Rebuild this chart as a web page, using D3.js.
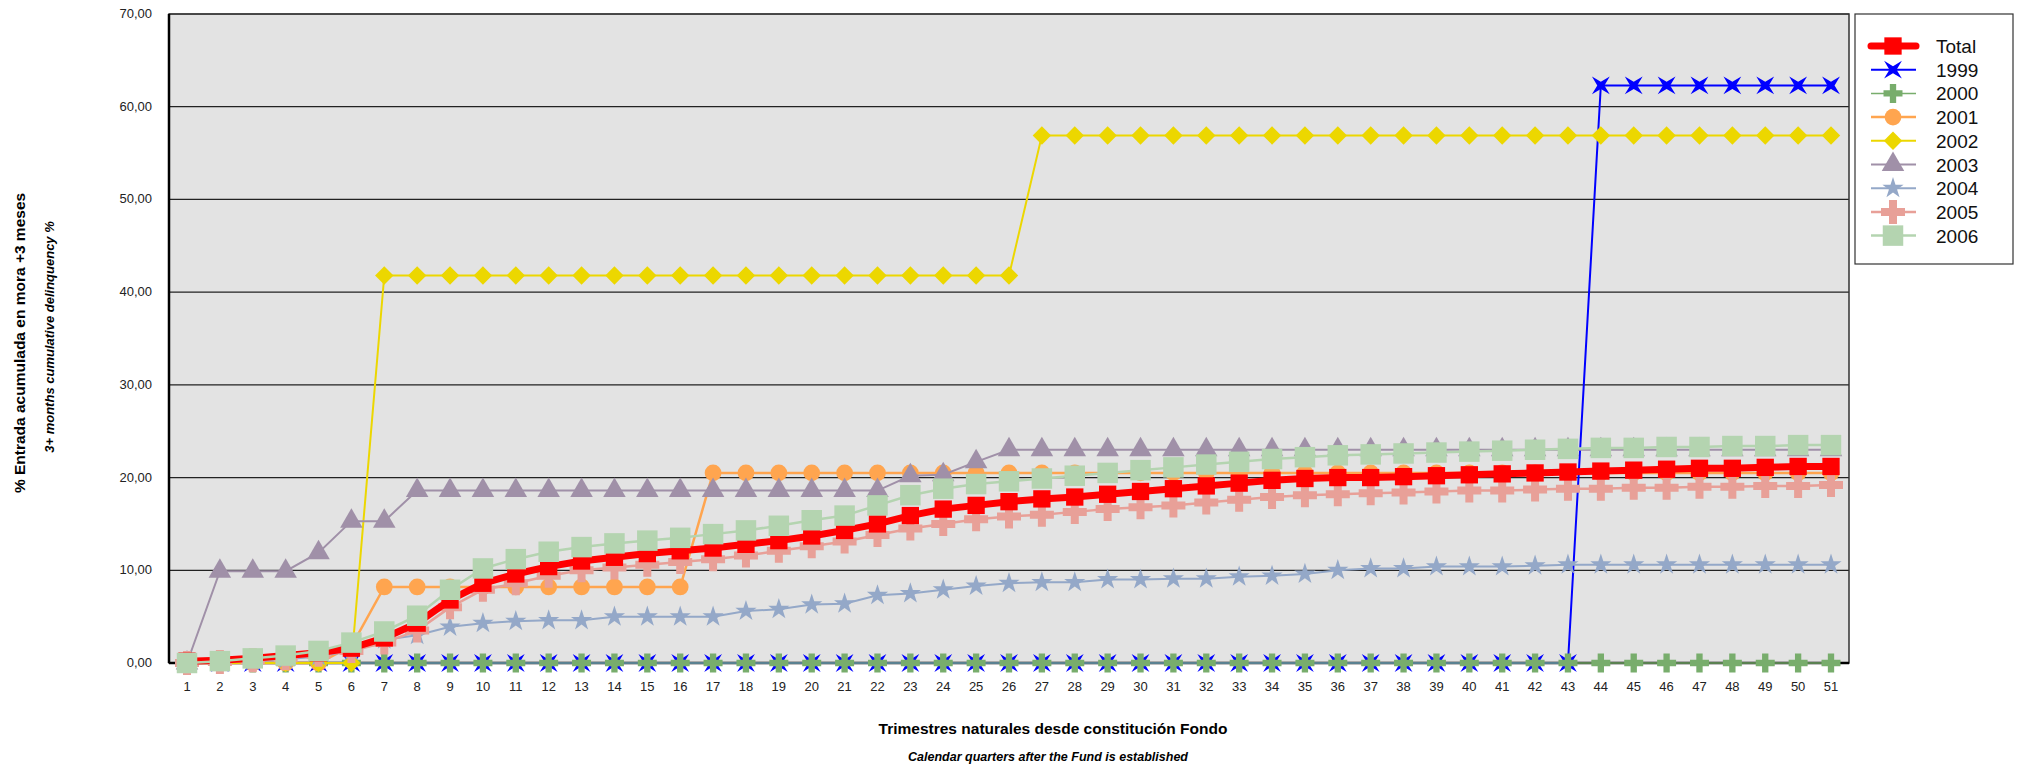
<!DOCTYPE html><html><head><meta charset="utf-8"><script src="https://cdn.jsdelivr.net/npm/d3@7"></script>
<style>body{margin:0;background:#fff}text{font-family:"Liberation Sans",Arial,sans-serif}</style></head><body><svg id="c" width="2019" height="765"></svg><script>
const quarters=d3.range(1,52);
const yTicks=[0,10,20,30,40,50,60,70];
const total=[0.2,0.3,0.5,0.8,1.1,1.6,2.7,4.3,6.8,8.6,9.6,10.4,11.0,11.4,11.8,12.1,12.4,12.8,13.2,13.7,14.3,15.0,15.9,16.6,17.0,17.4,17.7,17.9,18.2,18.5,18.8,19.1,19.4,19.7,19.9,20.0,20.0,20.1,20.2,20.3,20.4,20.5,20.6,20.7,20.8,20.9,21.0,21.0,21.1,21.2,21.2];
const s1999=[0,0,0,0,0,0,0,0,0,0,0,0,0,0,0,0,0,0,0,0,0,0,0,0,0,0,0,0,0,0,0,0,0,0,0,0,0,0,0,0,0,0,0,62.3,62.3,62.3,62.3,62.3,62.3,62.3,62.3];
const s2000=[0,0,0,0,0,0,0,0,0,0,0,0,0,0,0,0,0,0,0,0,0,0,0,0,0,0,0,0,0,0,0,0,0,0,0,0,0,0,0,0,0,0,0,0,0,0,0,0,0,0,0];
const s2001=[0,0,0,0,0,1.8,8.2,8.2,8.2,8.2,8.2,8.2,8.2,8.2,8.2,8.2,20.5,20.5,20.5,20.5,20.5,20.5,20.5,20.5,20.5,20.5,20.5,20.5,20.5,20.5,20.5,20.5,20.5,20.5,20.5,20.5,20.5,20.5,20.5,20.5,20.5,20.5,20.5,20.5,20.5,20.5,20.5,20.5,20.5,20.5,20.5];
const s2002=[0,0,0,0,0,0,41.8,41.8,41.8,41.8,41.8,41.8,41.8,41.8,41.8,41.8,41.8,41.8,41.8,41.8,41.8,41.8,41.8,41.8,41.8,41.8,56.9,56.9,56.9,56.9,56.9,56.9,56.9,56.9,56.9,56.9,56.9,56.9,56.9,56.9,56.9,56.9,56.9,56.9,56.9,56.9,56.9,56.9,56.9,56.9,56.9];
const s2003=[0,9.9,9.9,9.9,11.9,15.3,15.3,18.6,18.6,18.6,18.6,18.6,18.6,18.6,18.6,18.6,18.6,18.6,18.6,18.6,18.6,18.6,20.2,20.3,21.7,23.0,23.0,23.0,23.0,23.0,23.0,23.0,23.0,23.0,23.0,23.0,23.0,23.0,23.0,23.0,23.0,23.0,23.0,23.0,23.0,23.0,23.0,23.0,23.0,23.0,23.0];
const s2004=[0,0.1,0.2,0.4,0.7,1.3,2.5,3.0,3.9,4.3,4.5,4.6,4.6,5.0,5.0,5.0,5.0,5.6,5.8,6.3,6.4,7.3,7.5,7.9,8.3,8.6,8.7,8.7,9.0,9.0,9.1,9.1,9.3,9.4,9.6,10.0,10.2,10.2,10.4,10.4,10.4,10.5,10.6,10.6,10.6,10.6,10.6,10.6,10.6,10.6,10.6];
const s2005=[0,0.1,0.3,0.5,0.9,1.3,2.2,3.5,6.0,7.9,8.6,9.4,10.0,10.3,10.6,10.9,11.2,11.6,12.1,12.6,13.1,13.8,14.5,15.0,15.5,15.8,16.0,16.3,16.6,16.8,17.0,17.3,17.6,17.9,18.1,18.2,18.3,18.4,18.5,18.6,18.6,18.7,18.8,18.8,18.9,18.9,19.0,19.0,19.1,19.1,19.2];
const s2006=[0,0.2,0.5,0.8,1.3,2.2,3.4,5.1,7.9,10.2,11.2,12.0,12.5,12.9,13.2,13.5,13.9,14.3,14.8,15.4,15.9,17.0,18.1,18.8,19.3,19.6,19.9,20.2,20.5,20.8,21.1,21.4,21.7,22.0,22.2,22.4,22.5,22.6,22.7,22.8,22.9,23.0,23.1,23.2,23.2,23.3,23.3,23.4,23.4,23.5,23.5];

const star4={draw(ctx,size){const r=Math.sqrt(size)*0.6,i=r*0.4;ctx.moveTo(-r,-r);ctx.lineTo(0,-i);ctx.lineTo(r,-r);ctx.lineTo(i,0);ctx.lineTo(r,r);ctx.lineTo(0,i);ctx.lineTo(-r,r);ctx.lineTo(-i,0);ctx.closePath();}};
const diamond={draw(ctx,size){const r=Math.sqrt(size)*0.62;ctx.moveTo(0,-r);ctx.lineTo(r,0);ctx.lineTo(0,r);ctx.lineTo(-r,0);ctx.closePath();}};
const series=[
{name:"1999",v:s1999,c:"#0000ff",sym:star4,sz:220,w:2},
{name:"2000",v:s2000,c:"#78ad6c",sym:d3.symbolCross,sz:200,w:1.5},
{name:"2001",v:s2001,c:"#ffa54f",sym:d3.symbolCircle,sz:220,w:2.5},
{name:"2002",v:s2002,c:"#ecd700",sym:diamond,sz:220,w:2},
{name:"2003",v:s2003,c:"#a090a8",sym:d3.symbolTriangle,sz:220,w:2},
{name:"2004",v:s2004,c:"#94a8c8",sym:d3.symbolStar,sz:140,w:2},
{name:"2005",v:s2005,c:"#e8a098",sym:d3.symbolCross,sz:320,w:2.5},
{name:"Total",v:total,c:"#ff0000",sym:d3.symbolSquare,sz:300,w:7},
{name:"2006",v:s2006,c:"#b4d4b0",sym:d3.symbolSquare,sz:420,w:2.5}];
const svg=d3.select("#c");
const L=169,R=1849,T=14,B=663;
const x=d3.scaleLinear().domain([1,51]).range([187,1831]);
const y=d3.scaleLinear().domain([0,70]).range([B,T]);
svg.append("rect").attr("x",L).attr("y",T).attr("width",R-L).attr("height",B-T).attr("fill","#e3e3e3");
yTicks.forEach(t=>{svg.append("line").attr("x1",L).attr("x2",R).attr("y1",y(t)).attr("y2",y(t)).attr("stroke","#222").attr("stroke-width",1.2);
svg.append("text").attr("x",152).attr("y",y(t)+4).attr("text-anchor","end").attr("font-size",13).attr("fill","#222").text(t.toFixed(2).replace(".",","));});
svg.append("rect").attr("x",L).attr("y",T).attr("width",R-L).attr("height",B-T).attr("fill","none").attr("stroke","#333").attr("stroke-width",1.5);
svg.append("line").attr("x1",L).attr("x2",R).attr("y1",B).attr("y2",B).attr("stroke","#000").attr("stroke-width",2.5);
svg.append("line").attr("x1",L).attr("x2",L).attr("y1",T).attr("y2",B).attr("stroke","#000").attr("stroke-width",2.5);
quarters.forEach(q=>svg.append("text").attr("x",x(q)).attr("y",691).attr("text-anchor","middle").attr("font-size",13).attr("fill","#222").text(q));
const line=d3.line().x((d,i)=>x(quarters[i])).y(d=>y(d));
series.forEach(s=>{svg.append("path").attr("d",line(s.v)).attr("fill","none").attr("stroke",s.c).attr("stroke-width",s.w);
svg.append("g").selectAll("path").data(s.v).join("path").attr("transform",(d,i)=>`translate(${x(quarters[i])},${y(d)})`).attr("d",d3.symbol(s.sym,s.sz)).attr("fill",s.c);});
svg.append("text").attr("x",1053).attr("y",734).attr("text-anchor","middle").attr("font-size",15.5).attr("font-weight","bold").text("Trimestres naturales desde constitución Fondo");
svg.append("text").attr("x",1048).attr("y",761).attr("text-anchor","middle").attr("font-size",12.5).attr("font-weight","bold").attr("font-style","italic").text("Calendar quarters after the Fund is established");
svg.append("text").attr("transform","translate(25,343) rotate(-90)").attr("text-anchor","middle").attr("font-size",15.5).attr("font-weight","bold").text("% Entrada acumulada en mora +3 meses");
svg.append("text").attr("transform","translate(54,337) rotate(-90)").attr("text-anchor","middle").attr("font-size",13).attr("font-weight","bold").attr("font-style","italic").text("3+ months cumulative delinquency %");
const lg=svg.append("g");
lg.append("rect").attr("x",1855).attr("y",14).attr("width",158).attr("height",250).attr("fill","#fff").attr("stroke","#333").attr("stroke-width",1.2);
const order=["Total","1999","2000","2001","2002","2003","2004","2005","2006"];
order.forEach((n,i)=>{const s=series.find(d=>d.name===n);const yy=46+i*23.7;
lg.append("line").attr("x1",1871).attr("x2",1916).attr("y1",yy).attr("y2",yy).attr("stroke",s.c).attr("stroke-width",s.w).attr("stroke-linecap",n==="Total"?"round":"butt");
lg.append("path").attr("transform",`translate(1893,${yy})`).attr("d",d3.symbol(s.sym,s.sz)).attr("fill",s.c);
lg.append("text").attr("x",1936).attr("y",yy+7).attr("font-size",19).attr("fill","#111").text(n);});
</script></body></html>
